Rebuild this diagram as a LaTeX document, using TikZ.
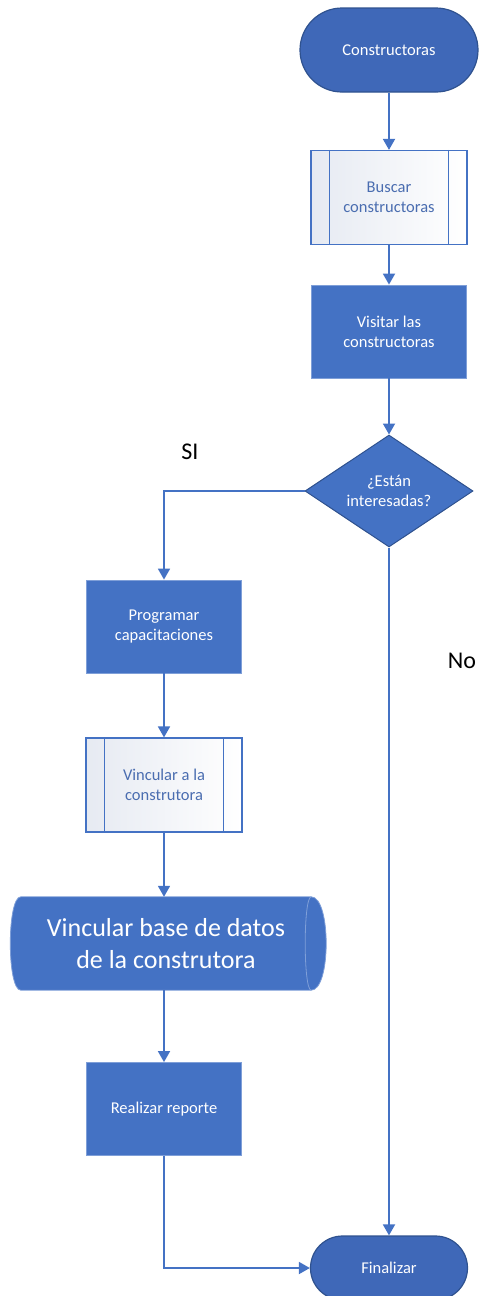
\documentclass[tikz,border=0pt]{standalone}
\usepackage{fontspec}
\setmainfont{Carlito}
\usetikzlibrary{shapes.geometric,shapes.misc,arrows.meta}
\definecolor{fillblue}{HTML}{4472C4}
\definecolor{termblue}{HTML}{3F68B8}
\definecolor{darkblue}{HTML}{2F528F}
\definecolor{lineblue}{HTML}{4472C4}
\definecolor{lightedge}{HTML}{7F9FD8}
\definecolor{subfill}{HTML}{E6EAF2}
\definecolor{subtext}{HTML}{4A6DB0}
\pgfdeclarelayer{background}
\pgfsetlayers{background,main}
\begin{document}
\begin{tikzpicture}[x=1pt,y=-1pt,
  every node/.style={font=\fontsize{16.5}{20}\selectfont, align=center},
  term/.style={rounded rectangle, fill=termblue, draw=darkblue, line width=1.2pt, text=white, inner sep=0pt},
  proc/.style={rectangle, fill=fillblue, draw=lightedge, line width=0.8pt, text=white, minimum width=155pt, minimum height=93pt, inner sep=0pt},
  subproc/.style={rectangle, draw=lineblue, line width=1.2pt, left color=subfill, right color=white, text=subtext, minimum width=156pt, minimum height=94pt, inner sep=0pt},
  decision/.style={diamond, fill=fillblue, draw=darkblue, line width=1pt, text=white, inner sep=0pt, aspect=1.5, minimum width=168pt, minimum height=112pt},
  conn/.style={draw=lineblue, line width=1.8pt, -{Triangle[width=12pt,length=11pt]}},
  lbl/.style={font=\fontsize{24}{28}\selectfont, text=black},
  sublines/.style={draw=lineblue, line width=1.2pt}
]
\useasboundingbox (0,0) rectangle (480,1296);

\node[term, minimum width=178pt, minimum height=84pt] (start) at (389,50) {Constructoras};
\node[subproc] (buscar) at (389,197.5) {Buscar\\constructoras};
\draw[sublines] ([xshift=19pt]buscar.north west) -- ([xshift=19pt]buscar.south west);
\draw[sublines] ([xshift=-19pt]buscar.north east) -- ([xshift=-19pt]buscar.south east);
\node[proc] (visitar) at (389,331.5) {Visitar las\\constructoras};
\node[decision] (dec) at (389,491) {¿Están\\interesadas?};

\node[proc] (prog) at (164,626.5) {Programar\\capacitaciones};
\node[subproc] (vinc) at (164,785) {Vincular a la\\construtora};
\draw[sublines] ([xshift=19pt]vinc.north west) -- ([xshift=19pt]vinc.south west);
\draw[sublines] ([xshift=-19pt]vinc.north east) -- ([xshift=-19pt]vinc.south east);

\node[minimum width=290pt, minimum height=93pt, inner sep=0pt, text=white,
      font=\fontsize{26}{32}\selectfont] (store) at (166,943.5) {Vincular base de datos\\de la construtora};
\begin{pgfonlayer}{background}
\filldraw[fill=fillblue, draw=lightedge, line width=0.8pt]
  (store.north west) -- (store.north east)
  .. controls ([xshift=20pt]store.north east) and ([xshift=20pt]store.south east) .. (store.south east)
  -- (store.south west)
  .. controls ([xshift=-14pt]store.south west) and ([xshift=-14pt]store.north west) .. cycle;
\draw[lightedge, line width=0.8pt] (store.north east)
  .. controls ([xshift=-8pt]store.north east) and ([xshift=-8pt]store.south east) .. (store.south east);
\end{pgfonlayer}

\node[proc] (real) at (164,1109) {Realizar reporte};
\node[term, minimum width=157pt, minimum height=64pt] (fin) at (389,1268) {Finalizar};

\node[lbl] (si) at (190,452) {SI};
\node[lbl] (no) at (462,661) {No};

\draw[conn] (start.south) -- (buscar.north);
\draw[conn] (buscar.south) -- (visitar.north);
\draw[conn] (visitar.south) -- (dec.north);
\draw[conn] (dec.west) -| (prog.north);
\draw[conn] (prog.south) -- (vinc.north);
\draw[conn] (vinc.south) -- (vinc.south |- store.north);
\draw[conn] (real.north |- store.south) -- (real.north);
\draw[conn] (real.south) |- (fin.west);
\draw[conn] (dec.south) -- (fin.north);
\end{tikzpicture}
\end{document}
